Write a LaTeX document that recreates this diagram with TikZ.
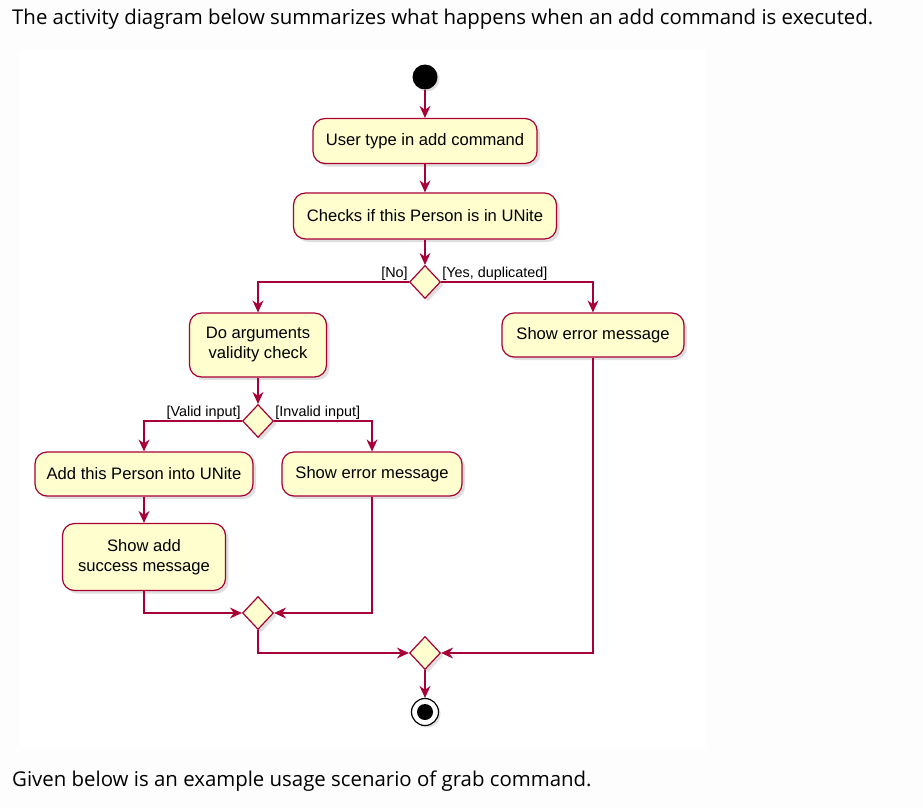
\documentclass[tikz,border=0pt]{standalone}
\usepackage{fontspec}
\setmainfont{Liberation Sans}
\newfontfamily\pagefont{Open Sans}
\usetikzlibrary{shapes.geometric, arrows.meta, shadows}

\definecolor{umlred}{HTML}{A80036}
\definecolor{umlfill}{HTML}{FEFECE}
\definecolor{pagebg}{HTML}{FDFDFD}

\begin{document}
\begin{tikzpicture}[x=1pt, y=-1pt,
  action/.style={draw=umlred, fill=umlfill, line width=1.2pt, rounded corners=12pt,
    inner sep=0pt, align=center, font=\fontsize{16.6}{20}\selectfont,
    drop shadow={shadow xshift=3pt, shadow yshift=-3pt, opacity=0.25}},
  branch/.style={diamond, draw=umlred, fill=umlfill, line width=1.2pt, inner sep=0pt,
    minimum width=31pt, minimum height=33pt,
    drop shadow={shadow xshift=3pt, shadow yshift=-3pt, opacity=0.25}},
  guard/.style={font=\fontsize{14.4}{16}\selectfont, inner sep=1pt},
  flow/.style={draw=umlred, line width=1.3pt, -{Stealth[length=12pt, width=11pt, inset=4pt]}},
  pagetext/.style={anchor=west, inner sep=0pt, font=\pagefont\fontsize{20.4}{24}\selectfont}]

  % Page and diagram area
  \useasboundingbox (0,0) rectangle (923,808);
  \fill[pagebg] (0,0) rectangle (923,808);
  \fill[white] (19,50) rectangle (706,748);

  % Page text
  \node[pagetext] (intro) at (12,19) {The activity diagram below summarizes what happens when an add command is executed.};
  \node[pagetext] (outro) at (12,781) {Given below is an example usage scenario of grab command.};

  % Start and end
  \node[circle, fill=black, minimum size=25pt, inner sep=0pt,
    drop shadow={shadow xshift=2pt, shadow yshift=-2pt, opacity=0.25}] (start) at (425,77) {};
  \node[circle, draw=black, fill=white, line width=1.2pt, minimum size=27pt, inner sep=0pt,
    drop shadow={shadow xshift=2pt, shadow yshift=-2pt, opacity=0.25},
    path picture={\fill[black] (path picture bounding box.center) circle (8);}] (stop) at (425,712) {};

  % Actions
  \node[action, minimum width=224pt, minimum height=45pt] (typecmd) at (425,141) {User type in add command};
  \node[action, minimum width=263pt, minimum height=46pt] (checkdup) at (425,216) {Checks if this Person is in UNite};
  \node[action, minimum width=137pt, minimum height=64pt] (validity) at (258,345) {Do arguments\\validity check};
  \node[action, minimum width=182pt, minimum height=44pt] (dupmsg) at (593,335) {Show error message};
  \node[action, minimum width=218pt, minimum height=44pt] (addperson) at (144,474) {Add this Person into UNite};
  \node[action, minimum width=180pt, minimum height=44pt] (invalidmsg) at (372,474) {Show error message};
  \node[action, minimum width=163pt, minimum height=67pt] (success) at (144,557) {Show add\\success message};

  % Decisions and merges
  \node[branch] (isdup) at (425,282) {};
  \node[branch] (isvalid) at (258,421) {};
  \node[branch] (mergein) at (258,613) {};
  \node[branch] (mergeout) at (425,653) {};

  % Guards
  \node[guard, anchor=south east] (gno) at (isdup.west) {[No]};
  \node[guard, anchor=south west] (gyes) at (isdup.east) {[Yes, duplicated]};
  \node[guard, anchor=south east] (gvalid) at (isvalid.west) {[Valid input]};
  \node[guard, anchor=south west] (ginvalid) at (isvalid.east) {[Invalid input]};

  % Flows
  \draw[flow] (start) -- (typecmd);
  \draw[flow] (typecmd) -- (checkdup);
  \draw[flow] (checkdup) -- (isdup);
  \draw[flow] (isdup.west) -| (validity);
  \draw[flow] (isdup.east) -| (dupmsg);
  \draw[flow] (validity) -- (isvalid);
  \draw[flow] (isvalid.west) -| (addperson);
  \draw[flow] (isvalid.east) -| (invalidmsg);
  \draw[flow] (addperson) -- (success);
  \draw[flow] (success.south) |- (mergein.west);
  \draw[flow] (invalidmsg.south) |- (mergein.east);
  \draw[flow] (mergein.south) |- (mergeout.west);
  \draw[flow] (dupmsg.south) |- (mergeout.east);
  \draw[flow] (mergeout) -- (stop);
\end{tikzpicture}
\end{document}
